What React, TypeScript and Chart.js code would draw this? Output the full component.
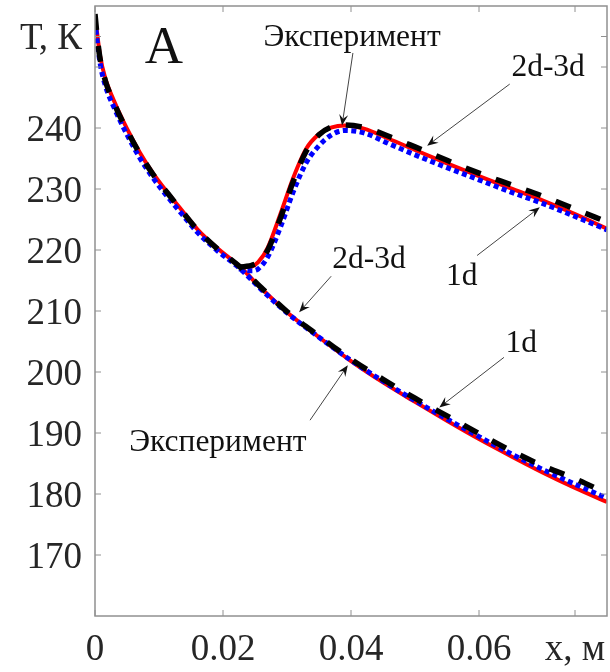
import React, { useEffect, useRef } from 'react';
import { Chart, registerables } from 'chart.js';

Chart.register(...registerables);

// ---- Data (x in m, T in K) ----
const xMain = [0, 0.0003, 0.0008, 0.0016, 0.003, 0.005, 0.007, 0.009, 0.0112, 0.0135, 0.016, 0.019, 0.0227, 0.026, 0.03, 0.035, 0.04, 0.045, 0.05, 0.055, 0.06, 0.065, 0.07, 0.075, 0.08];
const expMain = [258.7, 255.4, 251.3, 247.8, 244.0, 239.6, 235.8, 232.5, 229.5, 226.5, 223.3, 220.3, 217.2, 213.8, 209.9, 205.9, 202.1, 198.8, 195.7, 192.8, 189.9, 187.1, 184.6, 182.5, 180.1];
const model2d3dMain = [258.0, 255.8, 251.8, 248.2, 244.4, 239.9, 236.0, 232.7, 229.6, 226.6, 223.4, 220.4, 217.2, 213.7, 209.8, 205.7, 201.8, 198.3, 195.1, 192.0, 189.0, 186.2, 183.5, 181.0, 178.7];
const model1dMain = [257.5, 254.6, 250.6, 247.0, 243.3, 238.9, 235.1, 231.9, 228.9, 226.0, 222.9, 220.0, 216.9, 213.5, 209.7, 205.7, 201.9, 198.5, 195.3, 192.3, 189.4, 186.6, 184.0, 181.6, 179.3];

const xUpper = [0.0225, 0.0235, 0.0245, 0.0255, 0.027, 0.029, 0.031, 0.033, 0.035, 0.037, 0.039, 0.042, 0.046, 0.05, 0.055, 0.06, 0.065, 0.07, 0.075, 0.08];
const expUpper = [217.2, 217.3, 217.5, 218.0, 220.0, 225.3, 231.3, 236.2, 238.9, 240.2, 240.5, 240.1, 238.6, 236.9, 234.7, 232.6, 230.7, 228.8, 226.7, 224.6];
const model2d3dUpper = [217.3, 217.2, 217.3, 218.0, 220.4, 226.0, 231.9, 236.6, 239.0, 240.1, 240.4, 239.9, 238.2, 236.4, 234.2, 232.1, 230.1, 228.1, 225.9, 223.5];
const model1dUpper = [216.9, 216.7, 216.6, 216.9, 218.9, 223.8, 229.6, 234.3, 237.1, 238.9, 239.6, 239.2, 237.4, 235.6, 233.5, 231.5, 229.5, 227.6, 225.5, 223.3];

const yTickValues = [170, 180, 190, 200, 210, 220, 230, 240, 250, 255];
const yTickLabels = ['170', '180', '190', '200', '210', '220', '230', '240', '', 'Т, К'];
const xTickValues = [0, 0.02, 0.04, 0.06, 0.075];
const xTickLabels = ['0', '0.02', '0.04', '0.06', 'x, м'];

const annotationTexts = [
  { text: 'А', x: 0.01078, y: 250.7, size: 53 },
  { text: 'Эксперимент', x: 0.04016, y: 253.5, size: 31.5 },
  { text: '2d-3d', x: 0.0708, y: 248.6, size: 31.5 },
  { text: '2d-3d', x: 0.0428, y: 217.0, size: 31.5 },
  { text: '1d', x: 0.0573, y: 214.2, size: 31.5 },
  { text: '1d', x: 0.0666, y: 203.2, size: 31.5 },
  { text: 'Эксперимент', x: 0.0192, y: 187.0, size: 31.5 },
];

const arrowTails = [
  [0.0403, 252.3], [0.0648, 247.2], [0.0597, 219.1], [0.0369, 215.7], [0.0639, 202.4], [0.0336, 192.1],
];
const arrowHeads = [
  [0.0386, 240.4], [0.0519, 237.1], [0.0695, 227.0], [0.0319, 209.8], [0.0538, 194.2], [0.0395, 201.1],
];

const FONT = '"Liberation Serif", "Times New Roman", serif';

const framePlugin = {
  id: 'frameAndNotes',
  afterDatasetsDraw(chart: any) {
    const { ctx, chartArea: a, scales } = chart;
    const xs = scales.x, ys = scales.y;
    ctx.save();
    // frame
    ctx.strokeStyle = '#909090';
    ctx.lineWidth = 1.5;
    ctx.strokeRect(a.left, a.top, a.right - a.left, a.bottom - a.top);
    // inward ticks
    const tl = 6;
    ctx.beginPath();
    xTickValues.forEach((v) => {
      const p = xs.getPixelForValue(v);
      ctx.moveTo(p, a.bottom); ctx.lineTo(p, a.bottom - tl);
      ctx.moveTo(p, a.top); ctx.lineTo(p, a.top + tl);
    });
    yTickValues.forEach((v) => {
      const p = ys.getPixelForValue(v);
      ctx.moveTo(a.left, p); ctx.lineTo(a.left + tl, p);
      ctx.moveTo(a.right, p); ctx.lineTo(a.right - tl, p);
    });
    ctx.lineWidth = 1;
    ctx.stroke();

    // texts
    ctx.fillStyle = '#111';
    ctx.textAlign = 'center';
    ctx.textBaseline = 'alphabetic';
    annotationTexts.forEach((t) => {
      ctx.font = `${t.size}px ${FONT}`;
      ctx.fillText(t.text, xs.getPixelForValue(t.x), ys.getPixelForValue(t.y));
    });

    // arrows
    arrowTails.forEach((tail, i) => {
      const head = arrowHeads[i];
      const x1 = xs.getPixelForValue(tail[0]), y1 = ys.getPixelForValue(tail[1]);
      const x2 = xs.getPixelForValue(head[0]), y2 = ys.getPixelForValue(head[1]);
      const ang = Math.atan2(y2 - y1, x2 - x1);
      const c = Math.cos(ang), s = Math.sin(ang);
      const L = 11, W = 4.5, N = 7;
      ctx.strokeStyle = '#444';
      ctx.lineWidth = 1;
      ctx.beginPath();
      ctx.moveTo(x1, y1);
      ctx.lineTo(x2 - N * c, y2 - N * s);
      ctx.stroke();
      ctx.fillStyle = '#111';
      ctx.beginPath();
      ctx.moveTo(x2, y2);
      ctx.lineTo(x2 - L * c - W * s, y2 - L * s + W * c);
      ctx.lineTo(x2 - N * c, y2 - N * s);
      ctx.lineTo(x2 - L * c + W * s, y2 - L * s - W * c);
      ctx.closePath();
      ctx.fill();
    });
    ctx.restore();
  },
};

const pts = (xs: number[], ys: number[]) => xs.map((x, i) => ({ x, y: ys[i] }));

export default function App() {
  const ref = useRef<HTMLCanvasElement>(null);
  useEffect(() => {
    const canvas = ref.current;
    if (!canvas) return;
    const black = { borderColor: '#000000', borderWidth: 5.5, borderDash: [16, 16], order: 0 };
    const blue = { borderColor: '#0000ff', borderWidth: 5, borderDash: [5, 3.5], order: 1 };
    const red = { borderColor: '#ff0000', borderWidth: 4, order: 2 };
    const chart = new Chart(canvas, {
      type: 'line',
      data: {
        datasets: [
          { label: 'Эксперимент', data: pts(xMain, expMain), ...black },
          { label: 'Эксперимент', data: pts(xUpper, expUpper), ...black },
          { label: '1d', data: pts(xMain, model1dMain), ...blue },
          { label: '1d', data: pts(xUpper, model1dUpper), ...blue },
          { label: '2d-3d', data: pts(xMain, model2d3dMain), ...red },
          { label: '2d-3d', data: pts(xUpper, model2d3dUpper), ...red },
        ] as any,
      },
      options: {
        animation: false,
        responsive: false,
        devicePixelRatio: 1,
        layout: { padding: { top: 6, right: 3, left: 0, bottom: 0 } },
        plugins: { legend: { display: false }, tooltip: { enabled: false } },
        elements: {
          point: { radius: 0 },
          line: { cubicInterpolationMode: 'monotone', borderCapStyle: 'butt', fill: false },
        },
        scales: {
          x: {
            type: 'linear',
            min: 0,
            max: 0.08,
            grid: { display: false, drawTicks: false },
            border: { display: false },
            afterBuildTicks: (s: any) => { s.ticks = xTickValues.map((v) => ({ value: v })); },
            afterFit: (s: any) => { s.height = 56; s.paddingLeft = 0; s.paddingRight = 0; },
            ticks: {
              autoSkip: false,
              maxRotation: 0,
              padding: 12,
              color: '#262626',
              font: { family: FONT, size: 37 },
              callback: (v: any) => {
                const i = xTickValues.findIndex((t) => Math.abs(t - Number(v)) < 1e-9);
                return i >= 0 ? xTickLabels[i] : '';
              },
            },
          },
          y: {
            type: 'linear',
            min: 160,
            max: 260,
            grid: { display: false, drawTicks: false },
            border: { display: false },
            afterBuildTicks: (s: any) => { s.ticks = yTickValues.map((v) => ({ value: v })); },
            afterFit: (s: any) => { s.width = 95; s.paddingTop = 0; s.paddingBottom = 0; },
            ticks: {
              autoSkip: false,
              padding: 13,
              labelOffset: 3,
              color: '#262626',
              font: { family: FONT, size: 37 },
              callback: (v: any) => {
                const i = yTickValues.findIndex((t) => Math.abs(t - Number(v)) < 1e-9);
                return i >= 0 ? yTickLabels[i] : '';
              },
            },
          },
        },
      } as any,
      plugins: [framePlugin],
    });
    return () => chart.destroy();
  }, []);
  return (
    <div style={{ position: 'absolute', left: 0, top: 0, width: 610, height: 672, background: '#fff' }}>
      <canvas ref={ref} width={610} height={672} style={{ display: 'block' }} />
    </div>
  );
}
